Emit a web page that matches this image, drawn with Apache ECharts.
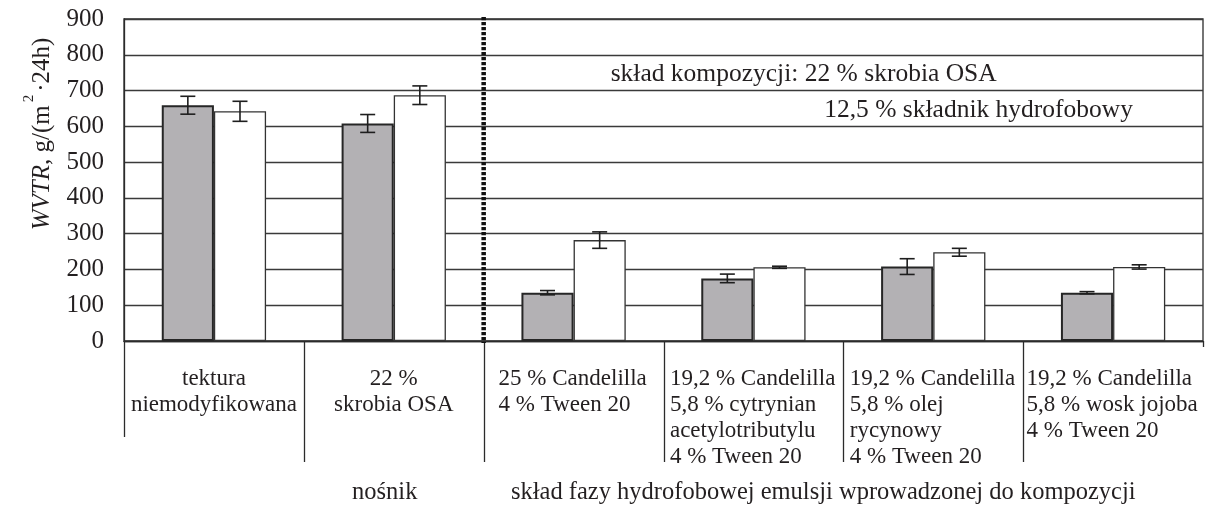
<!DOCTYPE html>
<html>
<head>
<meta charset="utf-8">
<script src="https://cdn.jsdelivr.net/npm/echarts@6/dist/echarts.min.js"></script>
<style>
  html, body { margin: 0; padding: 0; background: #fff; }
  #chart { width: 1210px; height: 507px; }
</style>
</head>
<body>
<div id="chart"></div>
<script>
// Category labels (one entry per group, one string per printed line)
const categories = [
  ['tektura', 'niemodyfikowana'],
  ['22 %', 'skrobia OSA'],
  ['25 % Candelilla', '4 % Tween 20'],
  ['19,2 % Candelilla', '5,8 % cytrynian', 'acetylotributylu', '4 % Tween 20'],
  ['19,2 % Candelilla', '5,8 % olej', 'rycynowy', '4 % Tween 20'],
  ['19,2 % Candelilla', '5,8 % wosk jojoba', '4 % Tween 20']
];

// WVTR, g/(m2*24h): grey and white bars with their standard deviations
const greyValues  = [659, 608, 135, 175, 208, 135];
const greyErrors  = [25, 25, 6, 12, 22, 3];
const whiteValues = [642, 687, 282, 206, 248, 207];
const whiteErrors = [28, 26, 23, 3, 11, 6];

// Value axis ticks
const yMin = 0;
const yMax = 900;
const yStep = 100;

// Free text drawn on and under the plot
const noteLines = ['skład kompozycji: 22 % skrobia OSA', '12,5 % składnik hydrofobowy'];
const groupTitles = ['nośnik', 'skład fazy hydrofobowej emulsji wprowadzonej do kompozycji'];

const FONT = '"Liberation Serif", "Times New Roman", serif';
const FS_LABEL = 23;
const FS_TICK = 25;
const FS_NOTE = 25.5;
const FS_TITLE = 24.5;
const FS_NAME = 25;
const TEXT = '#231f20';
const LINE = '#2b2b2b';
const BAR_FRAC = 0.29;

const measure = (() => {
  const ctx = document.createElement('canvas').getContext('2d');
  ctx.font = FS_LABEL + 'px "Liberation Serif"';
  return t => ctx.measureText(t).width;
})();

// Left-aligned text blocks, centred under their category
const labelRich = {};
categories.forEach((lines, i) => {
  labelRich['c' + i] = {
    width: Math.ceil(Math.max(...lines.map(measure))) + 1,
    align: 'left',
    fontFamily: FONT, fontSize: FS_LABEL, lineHeight: 26, color: TEXT
  };
});

function errorSeries(values, errors, side) {
  return {
    type: 'custom',
    z: 5,
    data: values.map((v, i) => [i, v - errors[i], v + errors[i]]),
    encode: { x: 0, y: [1, 2] },
    renderItem(params, api) {
      const i = api.value(0);
      const lo = api.coord([i, api.value(1)]);
      const hi = api.coord([i, api.value(2)]);
      const band = api.size([1, 0])[0];
      const x = lo[0] + side * band * BAR_FRAC / 2;
      const cap = 7.5;
      const style = { stroke: '#1e1e1e', lineWidth: 1.6 };
      return {
        type: 'group',
        children: [
          { type: 'line', shape: { x1: x, y1: hi[1], x2: x, y2: lo[1] }, style },
          { type: 'line', shape: { x1: x - cap, y1: hi[1], x2: x + cap, y2: hi[1] }, style },
          { type: 'line', shape: { x1: x - cap, y1: lo[1], x2: x + cap, y2: lo[1] }, style }
        ]
      };
    }
  };
}

const chart = echarts.init(document.getElementById('chart'));

chart.setOption({
  animation: false,
  backgroundColor: '#fff',
  grid: {
    left: 124, right: 7, top: 19, bottom: 166,
    show: true, borderColor: LINE, borderWidth: 1.3, backgroundColor: 'transparent'
  },
  xAxis: {
    type: 'category',
    data: categories.map(c => c.join(' ')),
    axisLine: { show: true, lineStyle: { color: LINE, width: 1.3 } },
    axisTick: { show: false },
    splitLine: { show: false },
    axisLabel: {
      interval: 0,
      margin: 25,
      fontFamily: FONT, fontSize: FS_LABEL, lineHeight: 26, color: TEXT,
      rich: labelRich,
      formatter: (value, index) => index < 2
        ? categories[index].join('\n')
        : categories[index].map(l => '{c' + index + '|' + l + '}').join('\n')
    }
  },
  yAxis: {
    type: 'value',
    min: yMin, max: yMax, interval: yStep,
    name: '{i|WVTR}{n|, g/(m}{s|2}{n|·24h)}',
    nameLocation: 'middle',
    nameGap: 62,
    nameTextStyle: {
      fontFamily: FONT, fontSize: FS_NAME, color: TEXT,
      padding: [0, 0, 0, 92],
      rich: {
        i: { fontFamily: FONT, fontSize: FS_NAME, fontStyle: 'italic', color: TEXT, lineHeight: 40 },
        n: { fontFamily: FONT, fontSize: FS_NAME, color: TEXT, lineHeight: 40 },
        s: { fontFamily: FONT, fontSize: 15, color: TEXT, lineHeight: 40, verticalAlign: 'top', padding: [0, 3, 0, 3] }
      }
    },
    axisLine: { show: true, lineStyle: { color: LINE, width: 1.3 } },
    axisTick: { show: false },
    axisLabel: { margin: 20, fontFamily: FONT, fontSize: FS_TICK, color: TEXT },
    splitLine: { show: true, lineStyle: { color: '#3a3a3a', width: 1.3 } }
  },
  series: [
    {
      type: 'bar',
      data: greyValues,
      barWidth: (BAR_FRAC * 100) + '%',
      barGap: '0%',
      itemStyle: { color: '#b3b1b4', borderColor: '#262626', borderWidth: 2 }
    },
    {
      type: 'bar',
      data: whiteValues,
      barWidth: (BAR_FRAC * 100) + '%',
      barGap: '0%',
      itemStyle: { color: '#ffffff', borderColor: '#333', borderWidth: 1.3 }
    },
    errorSeries(greyValues, greyErrors, -1),
    errorSeries(whiteValues, whiteErrors, 1)
  ]
});

// Group dividers below the axis, the dashed separator and the free text,
// all placed from the axis scales
function addDecorations() {
  const cx = i => chart.convertToPixel({ xAxisIndex: 0 }, i);
  const band = cx(1) - cx(0);
  const y0 = chart.convertToPixel({ yAxisIndex: 0 }, yMin);
  const yTop = chart.convertToPixel({ yAxisIndex: 0 }, yMax);
  const yAt = v => chart.convertToPixel({ yAxisIndex: 0 }, v);
  const n = categories.length;
  const g = [];
  for (let k = 0; k <= n; k++) {
    const x = Math.round(cx(0) - band / 2 + k * band) + 0.5;
    const len = k === 0 ? 96 : (k === n ? 6 : 121);
    g.push({
      type: 'line', silent: true,
      shape: { x1: x, y1: y0, x2: x, y2: y0 + len },
      style: { stroke: LINE, lineWidth: 1.3 }
    });
  }
  const xSep = (cx(1) + cx(2)) / 2;
  const xRight = cx(n - 1) + band / 2;
  g.push({
    type: 'line', silent: true, z: 10,
    shape: { x1: xSep, y1: yTop - 2, x2: xSep, y2: y0 + 2 },
    style: { stroke: '#111', lineWidth: 4.5, lineDash: [3.2, 1.8] }
  });
  g.push({
    type: 'text', silent: true, z: 10,
    style: { text: noteLines[0], x: xSep + 127, y: (yAt(800) + yAt(700)) / 2 + 2,
      font: FS_NOTE + 'px ' + FONT, fill: TEXT, align: 'left', verticalAlign: 'middle' }
  });
  g.push({
    type: 'text', silent: true, z: 10,
    style: { text: noteLines[1], x: xRight - 70, y: (yAt(700) + yAt(600)) / 2 + 2,
      font: FS_NOTE + 'px ' + FONT, fill: TEXT, align: 'right', verticalAlign: 'middle' }
  });
  g.push({
    type: 'text', silent: true,
    style: { text: groupTitles[0], x: cx(1) - 9, y: y0 + 152,
      font: FS_TITLE + 'px ' + FONT, fill: TEXT, align: 'center', verticalAlign: 'middle' }
  });
  g.push({
    type: 'text', silent: true,
    style: { text: groupTitles[1], x: 511, y: y0 + 152,
      font: FS_TITLE + 'px ' + FONT, fill: TEXT, align: 'left', verticalAlign: 'middle' }
  });
  chart.setOption({ graphic: g });
}
addDecorations();
</script>
</body>
</html>
